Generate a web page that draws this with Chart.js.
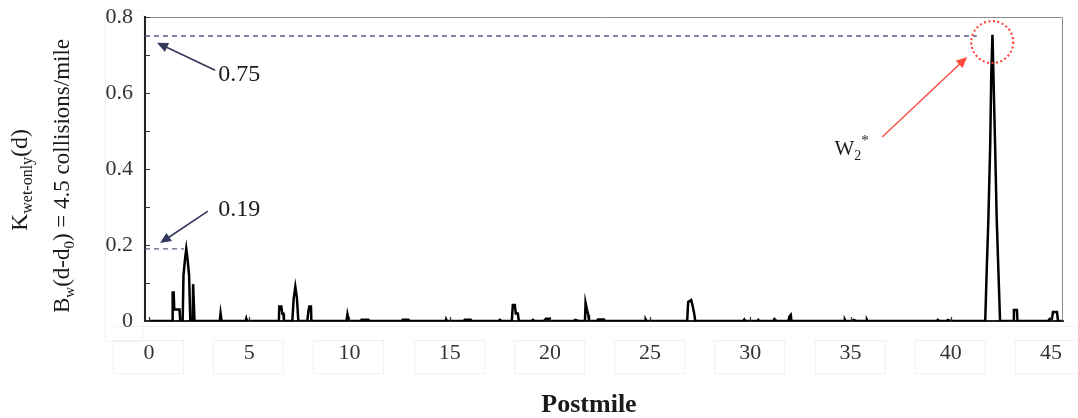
<!DOCTYPE html>
<html>
<head>
<meta charset="utf-8">
<script src="https://cdn.jsdelivr.net/npm/chart.js@4/dist/chart.umd.min.js"></script>
<style>
  html, body { margin: 0; padding: 0; background: #fff; }
  #wrap { width: 1078px; height: 418px; }
</style>
</head>
<body>
<div id="wrap"><canvas id="chart" width="1078" height="418"></canvas></div>
<script>
// K wet-only(d) along the postmile
var postmile = [
  0, 1.15, 1.18, 1.23, 1.26, 1.52, 1.56, 1.68, 1.72, 1.80, 1.86, 1.92, 2.00, 2.06, 2.18, 2.20, 2.24, 2.27,
  3.53, 3.57, 3.62, 4.82, 4.85, 4.88,
  6.48, 6.50, 6.60, 6.65, 6.70, 6.73, 7.15, 7.22, 7.30, 7.38, 7.45, 7.90, 7.95, 8.00, 8.08, 8.10,
  9.85, 9.90, 9.97, 10.55, 10.60, 10.95, 11.00, 12.60, 12.65, 12.95, 13.00, 14.80, 14.82, 14.85,
  15.70, 15.75, 16.05, 16.10, 17.45, 17.50, 17.60,
  18.10, 18.15, 18.25, 18.30, 18.40, 18.45, 19.10, 19.15, 19.25, 19.70, 19.80, 19.95, 20.00,
  21.20, 21.25, 21.45, 21.75, 21.78, 21.85, 21.92, 21.95, 22.35, 22.40, 22.70, 22.75, 24.75, 24.78, 24.82,
  26.85, 26.90, 27.05, 27.12, 27.20, 27.25, 29.65, 29.70, 29.75, 30.35, 30.40, 30.45,
  31.15, 31.20, 31.30, 31.90, 31.95, 32.02, 32.05,
  34.70, 34.72, 34.75, 35.10, 35.15, 35.30, 35.80, 35.82, 35.85,
  39.30, 39.35, 39.45, 39.80, 39.85, 40.00,
  41.72, 41.80, 41.88, 41.97, 42.02, 42.08, 42.13, 42.21, 42.29, 42.37, 42.46,
  43.12, 43.15, 43.30, 43.33, 44.85, 44.95, 45.05, 45.10, 45.30, 45.35, 45.60
];
var kValue = [
  0, 0, 0.075, 0.075, 0.03, 0.03, 0, 0, 0.12, 0.165, 0.19, 0.165, 0.12, 0, 0, 0.097, 0.097, 0,
  0, 0.02, 0, 0, 0.006, 0,
  0, 0.038, 0.038, 0.02, 0.02, 0, 0, 0.06, 0.09, 0.06, 0, 0, 0.025, 0.038, 0.038, 0,
  0, 0.018, 0, 0, 0.003, 0.003, 0, 0, 0.003, 0.003, 0, 0, 0.004, 0,
  0, 0.003, 0.003, 0, 0, 0.003, 0,
  0, 0.042, 0.042, 0.02, 0.02, 0, 0, 0.003, 0, 0, 0.006, 0.006, 0,
  0, 0.003, 0, 0, 0.048, 0.03, 0.015, 0, 0, 0.004, 0.004, 0, 0, 0.004, 0,
  0, 0.05, 0.055, 0.04, 0.02, 0, 0, 0.004, 0, 0, 0.003, 0,
  0, 0.005, 0, 0, 0.012, 0.016, 0,
  0, 0.003, 0, 0, 0.003, 0, 0, 0.003, 0,
  0, 0.003, 0, 0, 0.003, 0,
  0, 0.143, 0.274, 0.468, 0.647, 0.753, 0.647, 0.468, 0.274, 0.143, 0,
  0, 0.029, 0.029, 0, 0, 0.006, 0.006, 0.024, 0.024, 0, 0
];
var xTicks = [0, 5, 10, 15, 20, 25, 30, 35, 40, 45];
var yTicks = [0, 0.1, 0.2, 0.3, 0.4, 0.5, 0.6, 0.7, 0.8];
var yLabels = ['0', '', '0.2', '', '0.4', '', '0.6', '', '0.8'];
var maxMarks = [0.75, 0.19];

var SERIF = '"Liberation Serif", "Times New Roman", serif';

function drawRich(ctx, parts, x, y, rotate, align) {
  ctx.save();
  ctx.translate(x, y);
  if (rotate) ctx.rotate(-Math.PI / 2);
  var total = 0;
  parts.forEach(function (p) {
    ctx.font = (p.bold ? 'bold ' : '') + p.size + 'px ' + SERIF;
    p.w = ctx.measureText(p.t).width;
    total += p.w;
  });
  var cx = align === 'left' ? 0 : (align === 'right' ? -total : -total / 2);
  ctx.textBaseline = 'alphabetic';
  parts.forEach(function (p) {
    ctx.font = (p.bold ? 'bold ' : '') + p.size + 'px ' + SERIF;
    ctx.fillText(p.t, cx, p.dy);
    cx += p.w;
  });
  ctx.restore();
}

function arrow(ctx, x1, y1, x2, y2, color, width, head) {
  var a = Math.atan2(y2 - y1, x2 - x1);
  ctx.save();
  ctx.strokeStyle = color;
  ctx.fillStyle = color;
  ctx.lineWidth = width;
  ctx.beginPath();
  ctx.moveTo(x1, y1);
  ctx.lineTo(x2 - Math.cos(a) * head * 0.8, y2 - Math.sin(a) * head * 0.8);
  ctx.stroke();
  ctx.beginPath();
  ctx.moveTo(x2, y2);
  ctx.lineTo(x2 - head * Math.cos(a) + head * 0.45 * Math.sin(a), y2 - head * Math.sin(a) - head * 0.45 * Math.cos(a));
  ctx.lineTo(x2 - head * Math.cos(a) - head * 0.45 * Math.sin(a), y2 - head * Math.sin(a) + head * 0.45 * Math.cos(a));
  ctx.closePath();
  ctx.fill();
  ctx.restore();
}

var overlay = {
  id: 'overlay',
  beforeDatasetsDraw: function (chart) {
    var ctx = chart.ctx, a = chart.chartArea;
    var xs = chart.scales.x, ys = chart.scales.y;

    // faint scan boxes behind the tick labels
    ctx.save();
    ctx.strokeStyle = '#f1f1f1';
    ctx.lineWidth = 1;
    ctx.strokeRect(105.5, 10.5, a.left - 108, a.bottom + 10);
    ctx.beginPath();
    ctx.moveTo(a.left - 30, a.bottom + 5.5);
    ctx.lineTo(1078, a.bottom + 5.5);
    ctx.stroke();
    xTicks.forEach(function (v) {
      var x = Math.round(xs.getPixelForValue(v));
      ctx.strokeRect(x - 35.5, a.bottom + 19.5, 70, 33);
    });
    ctx.restore();

    // dashed guide lines at the two maxima
    ctx.save();
    ctx.strokeStyle = '#5b6080';
    ctx.lineWidth = 1.3;
    ctx.setLineDash([5, 4]);
    ctx.beginPath();
    ctx.moveTo(a.left, ys.getPixelForValue(maxMarks[0]));
    ctx.lineTo(xs.getPixelForValue(41.3), ys.getPixelForValue(maxMarks[0]));
    ctx.moveTo(a.left, ys.getPixelForValue(maxMarks[1]));
    ctx.lineTo(xs.getPixelForValue(1.75), ys.getPixelForValue(maxMarks[1]));
    ctx.stroke();
    ctx.restore();
  },
  afterDraw: function (chart) {
    var ctx = chart.ctx, a = chart.chartArea;
    var xs = chart.scales.x, ys = chart.scales.y;
    function px(v) { return xs.getPixelForValue(v); }
    function py(v) { return ys.getPixelForValue(v); }

    // frame top/right
    ctx.save();
    ctx.strokeStyle = '#8a8a8a';
    ctx.lineWidth = 1;
    ctx.beginPath();
    ctx.moveTo(a.left, a.top + 0.5);
    ctx.lineTo(a.right - 0.5, a.top + 0.5);
    ctx.lineTo(a.right - 0.5, a.bottom);
    ctx.stroke();

    // inside ticks
    ctx.strokeStyle = '#333';
    ctx.lineWidth = 1.2;
    ctx.beginPath();
    yTicks.forEach(function (v) {
      var y = Math.round(py(v)) + 0.5;
      ctx.moveTo(a.left, y);
      ctx.lineTo(a.left + 5, y);
    });
    xTicks.forEach(function (v) {
      var x = Math.round(px(v)) + 0.5;
      ctx.moveTo(x, a.bottom);
      ctx.lineTo(x, a.bottom - 4);
    });
    ctx.stroke();
    ctx.restore();

    // tick labels, placed by the scales
    ctx.save();
    ctx.fillStyle = '#333';
    ctx.font = '22px ' + SERIF;
    ctx.textBaseline = 'middle';
    ctx.textAlign = 'right';
    yTicks.forEach(function (v, i) {
      if (yLabels[i]) ctx.fillText(yLabels[i], a.left - 12, py(v));
    });
    ctx.textAlign = 'center';
    xTicks.forEach(function (v) {
      ctx.fillText(String(v), px(v), a.bottom + 32);
    });
    ctx.restore();

    // annotations
    ctx.save();
    ctx.fillStyle = '#1a1a1a';
    drawRich(ctx, [{ t: '0.75', size: 24, dy: 8 }], px(3.45), py(0.652), false, 'left');
    drawRich(ctx, [{ t: '0.19', size: 24, dy: 8 }], px(3.45), py(0.297), false, 'left');
    arrow(ctx, px(3.3), py(0.66), px(0.4), py(0.732), '#34385c', 1.6, 11);
    arrow(ctx, px(2.94), py(0.289), px(0.55), py(0.205), '#34385c', 1.6, 11);

    // W2* marker
    drawRich(ctx, [
      { t: 'W', size: 21, dy: 7 },
      { t: '2', size: 14, dy: 12 },
      { t: '*', size: 15, dy: -3 }
    ], px(34.2), py(0.455), false, 'left');
    arrow(ctx, px(36.58), py(0.484), px(40.82), py(0.695), '#ff4a3d', 1.4, 11);
    ctx.strokeStyle = '#ff3b30';
    ctx.lineWidth = 2;
    ctx.setLineDash([2, 2.5]);
    ctx.beginPath();
    ctx.arc(px(42.07), py(0.734), 21, 0, Math.PI * 2);
    ctx.stroke();
    ctx.setLineDash([]);

    // axis titles
    ctx.fillStyle = '#1a1a1a';
    drawRich(ctx, [
      { t: 'K', size: 24, dy: 8 },
      { t: 'wet-only', size: 16, dy: 13 },
      { t: '(d)', size: 24, dy: 8 }
    ], 19, 180, true);
    drawRich(ctx, [
      { t: 'B', size: 23, dy: 8 },
      { t: 'w', size: 15, dy: 13 },
      { t: '(d-d', size: 23, dy: 8 },
      { t: '0', size: 15, dy: 13 },
      { t: ') = 4.5 collisions/mile', size: 23, dy: 8 }
    ], 61, 176, true);
    drawRich(ctx, [{ t: 'Postmile', size: 26, dy: 9, bold: true }], 589, 403, false);
    ctx.restore();
  }
};

var points = postmile.map(function (p, i) { return { x: p, y: kValue[i] }; });

new Chart(document.getElementById('chart'), {
  type: 'scatter',
  data: {
    datasets: [{
      data: points,
      showLine: true,
      borderColor: '#000',
      borderWidth: 2.5,
      pointRadius: 0,
      tension: 0
    }]
  },
  options: {
    responsive: false,
    animation: false,
    devicePixelRatio: 1,
    layout: { padding: { top: 17, right: 15, left: 0, bottom: 0 } },
    plugins: { legend: { display: false }, tooltip: { enabled: false } },
    scales: {
      x: {
        type: 'linear',
        min: -0.2,
        max: 45.6,
        afterBuildTicks: function (s) { s.ticks = xTicks.map(function (v) { return { value: v }; }); },
        afterFit: function (s) { s.height = 97; },
        grid: { drawOnChartArea: false, drawTicks: false },
        border: { display: true, color: '#222', width: 2 },
        ticks: { display: false }
      },
      y: {
        min: 0,
        max: 0.8,
        afterBuildTicks: function (s) { s.ticks = yTicks.map(function (v) { return { value: v }; }); },
        afterFit: function (s) { s.width = 145; },
        grid: { drawOnChartArea: false, drawTicks: false },
        border: { display: true, color: '#222', width: 2 },
        ticks: { display: false }
      }
    }
  },
  plugins: [overlay]
});
</script>
</body>
</html>
